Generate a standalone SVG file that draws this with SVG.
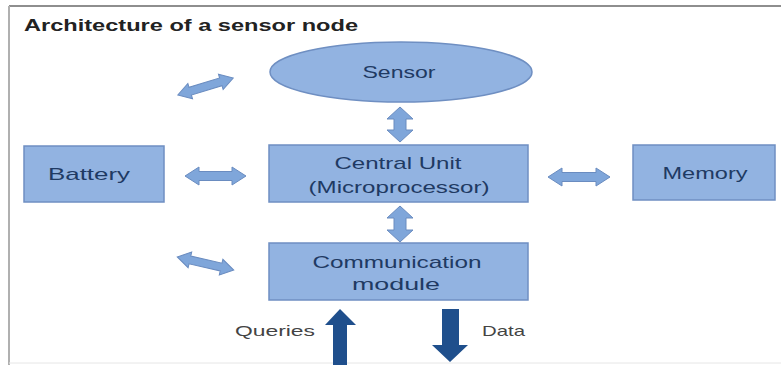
<svg xmlns="http://www.w3.org/2000/svg" width="781" height="365" viewBox="0 0 781 365">
  <style>
    .node { fill: #92b3e1; stroke: #6f8fc2; stroke-width: 1.5; }
    .label { font-family: "Liberation Sans", Arial, sans-serif; font-size: 17px; fill: #1f3a63; text-anchor: middle; dominant-baseline: central; }
    .link { fill: #7fa6da; stroke: #6a8cc0; stroke-width: 1; }
    .io { fill: #1f4f8c; }
    .io-label { font-family: "Liberation Sans", Arial, sans-serif; font-size: 15px; fill: #444; dominant-baseline: central; }
    .title { font-family: "Liberation Sans", Arial, sans-serif; font-size: 17px; font-weight: bold; fill: #222; }
  </style>
  <defs>
    <path id="dbl" d="M-29,0 L-16,-8 L-16,-4 L16,-4 L16,-8 L29,0 L16,8 L16,4 L-16,4 L-16,8 Z"/>
  </defs>

  <rect x="0" y="0" width="781" height="365" fill="#ffffff"/>
  <!-- frame -->
  <line x1="9" y1="6" x2="781" y2="6" stroke="#8e8e8e" stroke-width="2"/>
  <line x1="9" y1="6" x2="9" y2="365" stroke="#b0b0b0" stroke-width="2"/>
  <line x1="9" y1="363" x2="781" y2="363" stroke="#e6e6e6" stroke-width="1"/>

  <text class="title" x="24" y="31" textLength="334" lengthAdjust="spacingAndGlyphs">Architecture of a sensor node</text>

  <g id="sensor">
    <ellipse class="node" cx="401" cy="72" rx="131" ry="30"/>
    <text class="label" x="399" y="72" textLength="73" lengthAdjust="spacingAndGlyphs">Sensor</text>
  </g>
  <g id="central-unit">
    <rect class="node" x="269" y="145" width="259" height="57"/>
    <text class="label" x="398" y="163" textLength="127" lengthAdjust="spacingAndGlyphs">Central Unit</text>
    <text class="label" x="399" y="187" textLength="181" lengthAdjust="spacingAndGlyphs">(Microprocessor)</text>
  </g>
  <g id="battery">
    <rect class="node" x="24" y="146" width="140" height="56"/>
    <text class="label" x="89" y="174" textLength="82" lengthAdjust="spacingAndGlyphs">Battery</text>
  </g>
  <g id="memory">
    <rect class="node" x="633" y="145" width="142" height="55"/>
    <text class="label" x="705" y="173" textLength="85" lengthAdjust="spacingAndGlyphs">Memory</text>
  </g>
  <g id="communication-module">
    <rect class="node" x="269" y="243" width="259" height="57"/>
    <text class="label" x="397" y="262" textLength="169" lengthAdjust="spacingAndGlyphs">Communication</text>
    <text class="label" x="396" y="284" textLength="88" lengthAdjust="spacingAndGlyphs">module</text>
  </g>

  <g id="connectors">
    <!-- sensor <-> central unit -->
    <path class="link" d="M400,107 L413,119 L406,119 L406,130 L413,130 L400,142 L387,130 L394,130 L394,119 L387,119 Z"/>
    <!-- central unit <-> communication module -->
    <path class="link" d="M400,206 L413,218 L406,218 L406,230 L413,230 L400,242 L387,230 L394,230 L394,218 L387,218 Z"/>
    <!-- battery <-> central unit -->
    <path class="link" d="M185,176 L199,167 L199,171.5 L232,171.5 L232,167 L246,176 L232,185 L232,180.5 L199,180.5 L199,185 Z"/>
    <!-- central unit <-> memory -->
    <path class="link" d="M548,177 L562,168 L562,172.5 L596,172.5 L596,168 L610,177 L596,186 L596,181.5 L562,181.5 L562,186 Z"/>
    <!-- diagonal links on the left -->
    <use href="#dbl" class="link" transform="translate(205.5,86.5) rotate(-17)"/>
    <use href="#dbl" class="link" transform="translate(205.5,263.5) rotate(13)"/>
    <!-- queries in / data out -->
    <path class="io" d="M340,309 L356,325 L347,325 L347,365 L333,365 L333,325 L325,325 Z"/>
    <path class="io" d="M442,309 L459,309 L459,345 L468,345 L450,362 L432,345 L442,345 Z"/>
    <text class="io-label" x="235" y="330" textLength="80" lengthAdjust="spacingAndGlyphs">Queries</text>
    <text class="io-label" x="482" y="330" textLength="43" lengthAdjust="spacingAndGlyphs">Data</text>
  </g>
</svg>
